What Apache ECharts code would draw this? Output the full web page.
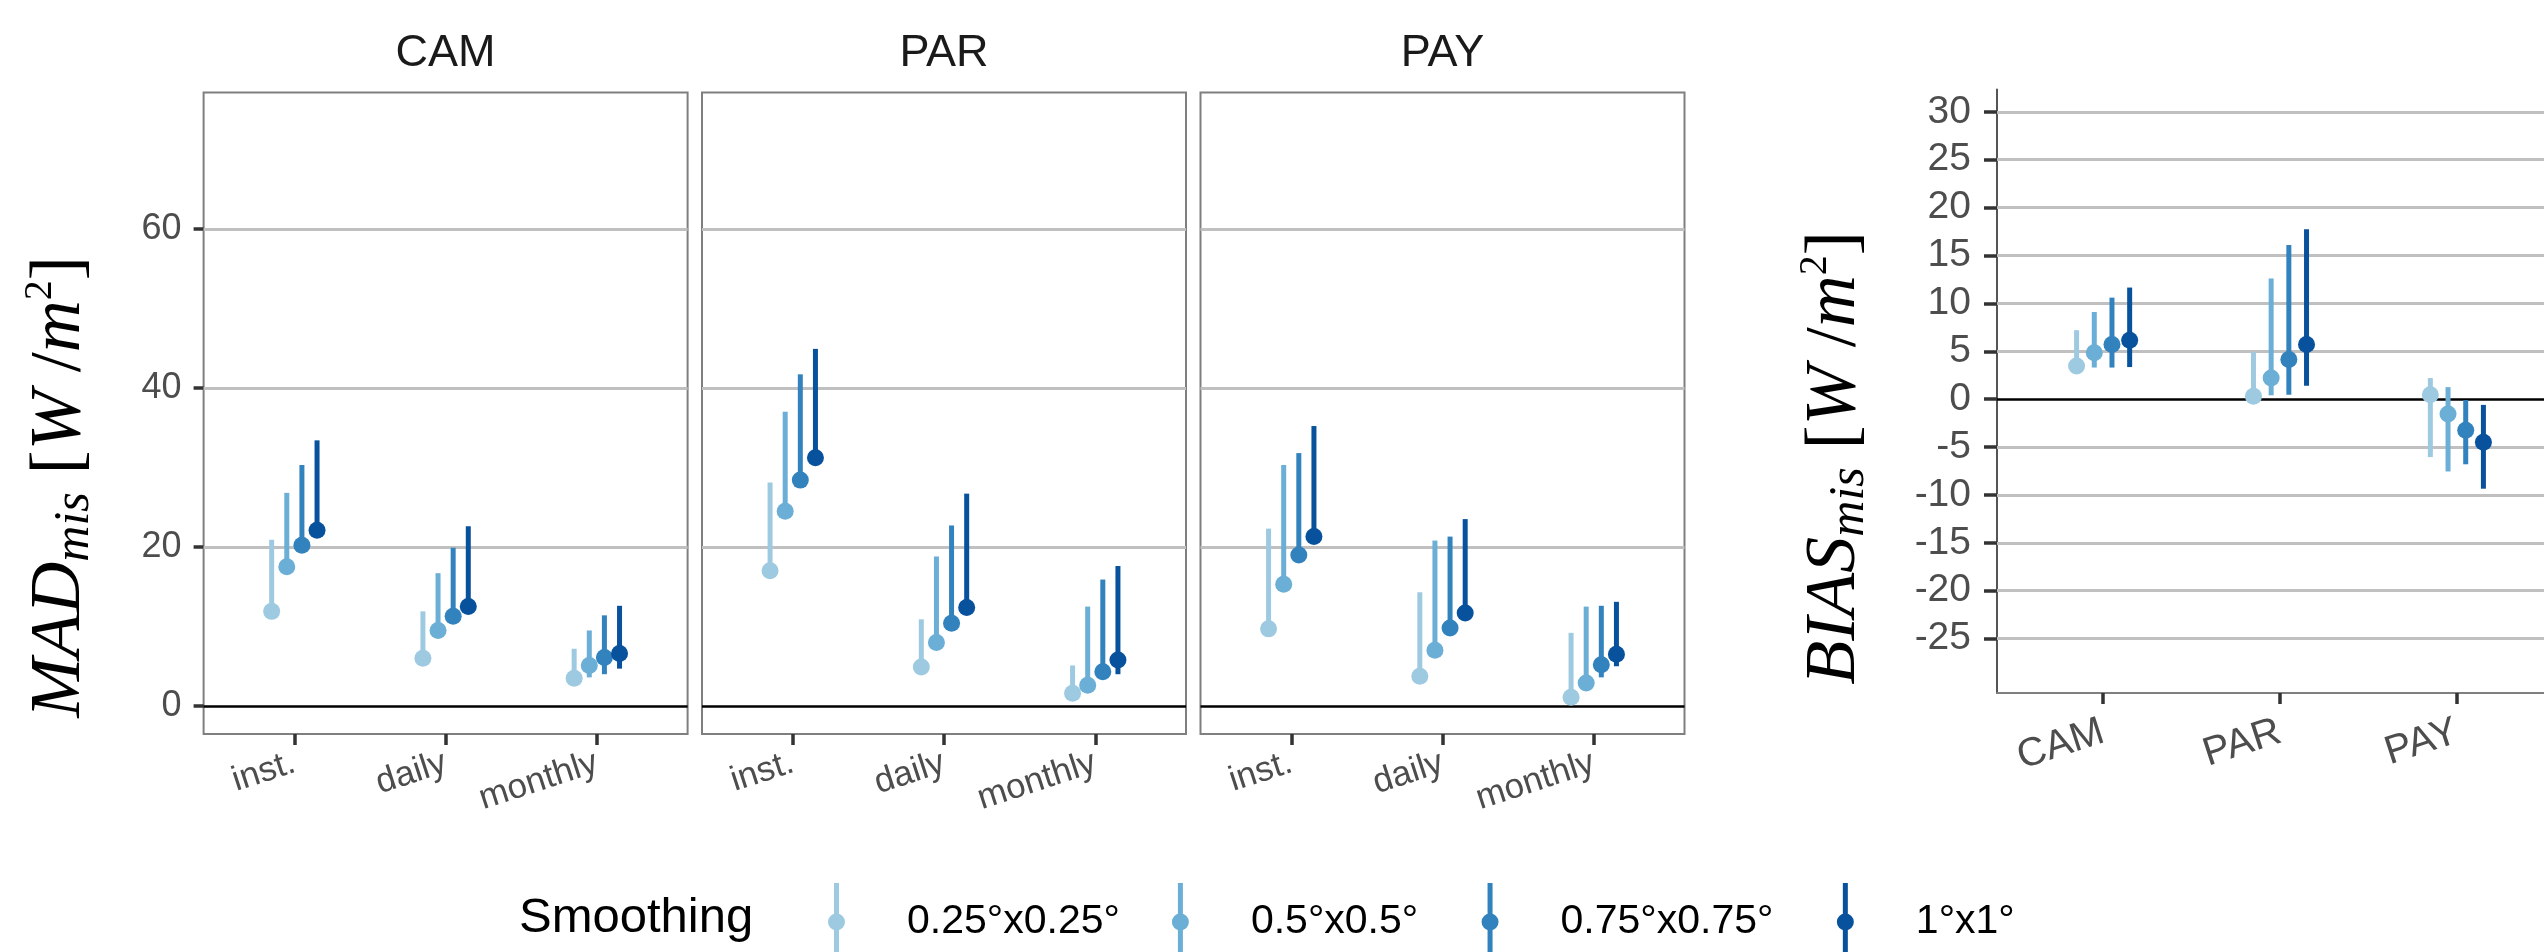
<!DOCTYPE html>
<html><head><meta charset="utf-8">
<script src="https://cdn.jsdelivr.net/npm/echarts@6/dist/echarts.min.js"></script>
<style>html,body{margin:0;padding:0;background:#fff}#c{width:2544px;height:952px}</style>
</head><body><div id="c"></div>
<script>
// ---------------- data ----------------
const facets = ['CAM', 'PAR', 'PAY'];
const resolutions = ['inst.', 'daily', 'monthly'];
const smoothing = ['0.25°x0.25°', '0.5°x0.5°', '0.75°x0.75°', '1°x1°'];
const colors = ['#9ecae1', '#6baed6', '#3182bd', '#08519c'];
const madTicks = [0, 20, 40, 60];
const biasTicks = [-25, -20, -15, -10, -5, 0, 5, 10, 15, 20, 25, 30];

// MAD_mis, rows = smoothing level, columns = [inst., daily, monthly]
const madMidCAM  = [[11.9, 6.0, 3.5], [17.5, 9.5, 5.1], [20.2, 11.3, 6.1], [22.1, 12.5, 6.6]];
const madLowCAM  = [[11.9, 6.0, 3.5], [17.5, 9.5, 3.6], [20.2, 11.3, 4.0], [22.1, 12.5, 4.7]];
const madHighCAM = [[20.9, 11.9, 7.2], [26.8, 16.7, 9.5], [30.3, 19.9, 11.4], [33.4, 22.6, 12.6]];

const madMidPAR  = [[17.0, 4.9, 1.6], [24.5, 8.0, 2.6], [28.4, 10.4, 4.3], [31.2, 12.4, 5.8]];
const madLowPAR  = [[17.0, 4.9, 1.6], [24.5, 8.0, 2.6], [28.4, 10.4, 4.3], [31.2, 12.4, 4.0]];
const madHighPAR = [[28.1, 10.9, 5.1], [37.0, 18.8, 12.5], [41.7, 22.7, 15.9], [44.9, 26.7, 17.6]];

const madMidPAY  = [[9.7, 3.75, 1.1], [15.3, 7.0, 2.9], [19.0, 9.8, 5.2], [21.3, 11.7, 6.5]];
const madLowPAY  = [[9.7, 3.75, 1.1], [15.3, 7.0, 2.9], [19.0, 9.8, 3.6], [21.3, 11.7, 5.0]];
const madHighPAY = [[22.3, 14.3, 9.2], [30.3, 20.8, 12.5], [31.8, 21.3, 12.6], [35.2, 23.5, 13.1]];

// BIAS_mis, rows = smoothing level, columns = [CAM, PAR, PAY]
const biasMid  = [[3.45, 0.3, 0.45], [4.85, 2.2, -1.55], [5.7, 4.15, -3.25], [6.15, 5.7, -4.5]];
const biasLow  = [[3.45, 0.3, -6.05], [3.3, 0.4, -7.55], [3.3, 0.45, -6.8], [3.35, 1.4, -9.35]];
const biasHigh = [[7.2, 4.9, 2.2], [9.1, 12.6, 1.25], [10.6, 16.1, -0.1], [11.65, 17.75, -0.6]];

// ---------------- chart ----------------
const FONT = 'Liberation Sans';
const SERIF = 'Liberation Serif';
const madMid = [madMidCAM, madMidPAR, madMidPAY];
const madLow = [madLowCAM, madLowPAR, madLowPAY];
const madHigh = [madHighCAM, madHighPAR, madHighPAY];

const panelLeft = [203.6, 702, 1200.5];
const panelW = 484, panelTop = 92.6, panelH = 641.5;
const dodge = 0.1;
// bias panel: discrete scale 0.4..3.6 over 566px; its right part falls past the canvas edge
const biasUnit = 566 / 3.2;
const biasLeft = 1997;
const biasW = 566;
const biasXMax = 0.4 + biasW / biasUnit;

function renderRange(color) {
  return function (params, api) {
    const x = api.value(0);
    const p = api.coord([x, api.value(1)]);
    const lo = api.coord([x, api.value(2)]);
    const hi = api.coord([x, api.value(3)]);
    return {
      type: 'group',
      children: [
        { type: 'line', shape: { x1: lo[0], y1: lo[1], x2: hi[0], y2: hi[1] },
          style: { stroke: color, lineWidth: 5, lineCap: 'butt' } },
        { type: 'circle', shape: { cx: p[0], cy: p[1], r: 8.5 }, style: { fill: color } }
      ]
    };
  };
}

const grid = panelLeft.map(l => ({ left: l, top: panelTop, width: panelW, height: panelH,
  show: true, borderColor: '#7f7f7f', borderWidth: 2, backgroundColor: 'transparent', outerBoundsMode: 'none' }));
grid.push({ left: biasLeft, top: 89.5, width: biasW, height: 603.5, show: false, borderWidth: 0, outerBoundsMode: 'none' });

const xAxis = [], yAxis = [], series = [];
facets.forEach((f, i) => {
  xAxis.push({
    gridIndex: i, type: 'value', min: 0.4, max: 3.6, splitLine: { show: false },
    axisLine: { show: false, onZero: false },
    axisTick: { show: true, customValues: [1, 2, 3], length: 11, lineStyle: { color: '#333', width: 3.5 } },
    axisLabel: { show: true, customValues: [1, 2, 3], formatter: v => resolutions[Math.round(v) - 1],
      rotate: 18, margin: 28, fontSize: 35, color: '#4d4d4d', fontFamily: FONT }
  });
  yAxis.push({
    gridIndex: i, type: 'value', min: -3.53, max: 77.12, splitLine: { show: false },
    axisLine: { show: false, onZero: false },
    axisTick: { show: i === 0, customValues: madTicks, length: 10, lineStyle: { color: '#333', width: 3.5 } },
    axisLabel: { show: i === 0, customValues: madTicks, margin: 22, fontSize: 36, color: '#4d4d4d', fontFamily: FONT }
  });
  series.push({
    type: 'line', xAxisIndex: i, yAxisIndex: i, data: [], silent: true, z: 1,
    markLine: { silent: true, symbol: ['none', 'none'], label: { show: false }, z: 1, animation: false,
      data: madTicks.map(v => ({ yAxis: v, lineStyle: { color: v === 0 ? '#000' : '#c0c0c0', width: v === 0 ? 2.5 : 3, type: 'solid' } })) }
  });
  smoothing.forEach((s, k) => {
    series.push({
      type: 'custom', name: s, xAxisIndex: i, yAxisIndex: i, z: 3,
      itemStyle: { color: colors[k] },
      encode: { x: 0, y: [1, 2, 3] },
      renderItem: renderRange(colors[k]),
      data: resolutions.map((r, j) => [j + 1 + (k - 1.5) * dodge, madMid[i][k][j], madLow[i][k][j], madHigh[i][k][j]])
    });
  });
});

// bias panel
xAxis.push({
  gridIndex: 3, type: 'value', min: 0.4, max: biasXMax, splitLine: { show: false },
  axisLine: { show: true, onZero: false, lineStyle: { color: '#7f7f7f', width: 2 } },
  axisTick: { show: true, customValues: [1, 2, 3], length: 11, lineStyle: { color: '#333', width: 3.5 } },
  axisLabel: { show: true, customValues: [1, 2, 3], formatter: v => facets[Math.round(v) - 1],
    rotate: 18, margin: 38, fontSize: 40, color: '#4d4d4d', fontFamily: FONT }
});
yAxis.push({
  gridIndex: 3, type: 'value', min: -30.68, max: 32.33, splitLine: { show: false },
  axisLine: { show: true, onZero: false, lineStyle: { color: '#555', width: 2 } },
  axisTick: { show: true, customValues: biasTicks, length: 13, lineStyle: { color: '#333', width: 3.5 } },
  axisLabel: { show: true, customValues: biasTicks, margin: 26, fontSize: 39, color: '#4d4d4d', fontFamily: FONT }
});
series.push({
  type: 'line', xAxisIndex: 3, yAxisIndex: 3, data: [], silent: true, z: 1,
  markLine: { silent: true, symbol: ['none', 'none'], label: { show: false }, z: 1, animation: false,
    data: biasTicks.map(v => ({ yAxis: v, lineStyle: { color: v === 0 ? '#000' : '#c0c0c0', width: v === 0 ? 2.5 : 3, type: 'solid' } })) }
});
smoothing.forEach((s, k) => {
  series.push({
    type: 'custom', name: s, xAxisIndex: 3, yAxisIndex: 3, z: 3,
    itemStyle: { color: colors[k] },
    encode: { x: 0, y: [1, 2, 3] },
    renderItem: renderRange(colors[k]),
    data: facets.map((f, j) => [j + 1 + (k - 1.5) * dodge, biasMid[k][j], biasLow[k][j], biasHigh[k][j]])
  });
});

const keyPath = 'path://M6,0 L11,0 L11,78 L6,78 Z M0,39 A8.5,8.5 0 1,1 17,39 A8.5,8.5 0 1,1 0,39 Z';

function axisTitle(x, y, main) {
  const rich = {
    i: { fontFamily: SERIF, fontStyle: 'italic', fontSize: 72, lineHeight: 80, verticalAlign: 'middle', fill: '#000' },
    r: { fontFamily: SERIF, fontSize: 72, lineHeight: 80, verticalAlign: 'middle', fill: '#000' },
    s: { fontFamily: SERIF, fontStyle: 'italic', fontSize: 50, lineHeight: 40, verticalAlign: 'bottom', fill: '#000' },
    p: { fontFamily: SERIF, fontSize: 40, lineHeight: 58, verticalAlign: 'top', fill: '#000' }
  };
  return {
    type: 'text', x: x, y: y, rotation: Math.PI / 2,
    style: { text: '{i|' + main + '}{s|mis}{r| [}{i|W}{r| /}{i|m}{p|2}{r|]}', rich: rich,
      align: 'center', verticalAlign: 'middle' }
  };
}

const graphic = [];
facets.forEach((f, i) => {
  graphic.push({ type: 'text', x: panelLeft[i] + panelW / 2, y: 54,
    style: { text: f, fontFamily: FONT, fontSize: 45, fill: '#1a1a1a', align: 'center', verticalAlign: 'middle' } });
});
graphic.push(axisTitle(60, 487, 'MAD'));
graphic.push(axisTitle(1835, 458, 'BIAS'));
graphic.push({ type: 'text', x: 519, y: 918,
  style: { text: 'Smoothing', fontFamily: FONT, fontSize: 49, fill: '#000', align: 'left', verticalAlign: 'middle' } });

// trailing spacing after each legend label (pixels), to match the reference key spacing
const legendTrail = [0, 10, 7, 0];
const legendRich = { pad: { width: 57 } };
legendTrail.forEach((w, k) => { legendRich['t' + k] = { width: w }; });

const chart = echarts.init(document.getElementById('c'), null, { renderer: 'canvas' });
chart.setOption({
  animation: false,
  backgroundColor: '#fff',
  grid: grid,
  xAxis: xAxis,
  yAxis: yAxis,
  series: series,
  graphic: graphic,
  legend: {
    data: smoothing.map(n => ({ name: n, icon: keyPath })),
    left: 823, top: 878, orient: 'horizontal',
    itemWidth: 17, itemHeight: 78, itemGap: 52,
    selectedMode: false,
    formatter: name => {
      const k = smoothing.indexOf(name);
      return '{pad| }' + name + (legendTrail[k] > 0 ? '{t' + k + '| }' : '');
    },
    textStyle: { fontSize: 41, color: '#000', fontFamily: FONT, rich: legendRich }
  }
});
</script></body></html>
